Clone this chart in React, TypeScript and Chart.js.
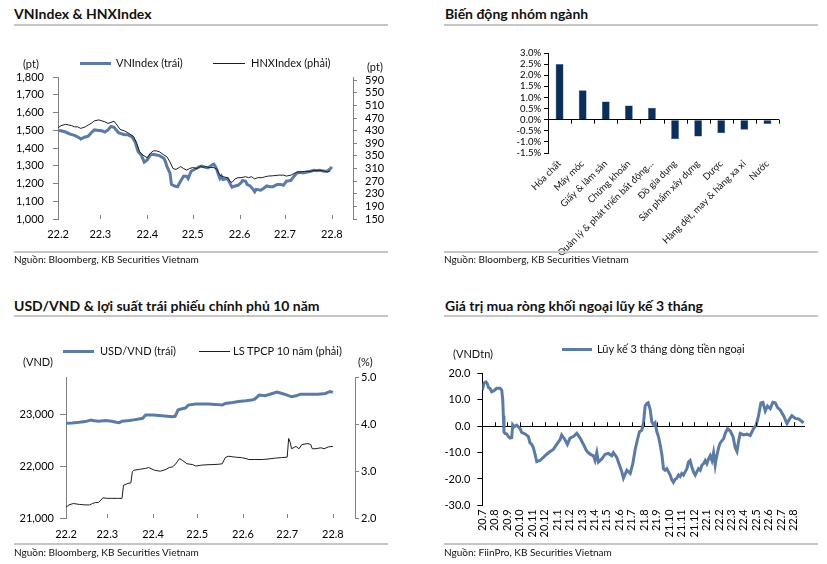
import React, { useEffect, useRef } from 'react';
import { Chart, registerables } from 'chart.js';

Chart.register(...registerables);

const FONT = 'Lato, "Open Sans", "DejaVu Sans", sans-serif';
const BLUE = '#5b7ba7';
const DARK = '#1e1e1e';
const AXIS_GRAY = '#808080';
const RULE_GRAY = '#c6c6c6';

// ---------- Panel 1: VNIndex & HNXIndex (x = days since 1 Feb 2022) ----------
const vnDays = [0, 2, 5, 8, 11, 14, 15, 18, 20, 22, 24, 27, 29, 31, 33, 35, 37, 40, 42, 44, 46, 49, 51, 53, 55, 57, 59, 61, 63, 65, 67, 70, 71, 72, 74, 75, 77, 79, 81, 83, 85, 86, 88, 91, 93, 95, 97, 99, 102, 103, 104, 105, 106, 107, 108, 109, 112, 113, 114, 115, 117, 119, 121, 122, 124, 125, 127, 129, 130, 131, 134, 136, 138, 140, 142, 145, 147, 149, 151, 154, 156, 158, 160, 162, 164, 167, 169, 171, 173, 176, 178, 180, 181];
const vnValues = [1499, 1497, 1490, 1478, 1471, 1458, 1451, 1462, 1467, 1486, 1502, 1499, 1497, 1490, 1502, 1521, 1517, 1486, 1480, 1475, 1475, 1462, 1434, 1379, 1361, 1320, 1333, 1361, 1364, 1361, 1357, 1342, 1324, 1296, 1259, 1195, 1186, 1182, 1213, 1241, 1241, 1228, 1269, 1283, 1292, 1298, 1292, 1288, 1305, 1309, 1296, 1278, 1250, 1228, 1241, 1222, 1228, 1213, 1195, 1180, 1186, 1190, 1204, 1217, 1213, 1195, 1186, 1167, 1154, 1167, 1162, 1173, 1186, 1182, 1182, 1195, 1195, 1190, 1213, 1217, 1241, 1259, 1263, 1259, 1263, 1269, 1274, 1272, 1274, 1269, 1269, 1283, 1294];
const hnxDays = [0, 2, 5, 7, 9, 11, 13, 15, 18, 20, 22, 24, 27, 29, 31, 33, 35, 37, 39, 41, 44, 47, 50, 52, 54, 56, 59, 61, 63, 65, 67, 70, 72, 74, 76, 78, 81, 83, 85, 87, 89, 92, 94, 96, 98, 100, 103, 105, 107, 109, 112, 114, 115, 117, 119, 121, 124, 126, 128, 130, 132, 135, 137, 139, 142, 146, 149, 151, 154, 156, 158, 160, 163, 167, 170, 173, 176, 178, 180];
const hnxValues = [439, 446, 450, 448, 446, 442, 442, 437, 442, 448, 453, 461, 464, 461, 458, 453, 456, 460, 448, 434, 429, 421, 411, 390, 363, 353, 344, 358, 366, 366, 363, 353, 347, 331, 310, 307, 316, 310, 305, 310, 313, 310, 317, 314, 316, 313, 313, 308, 289, 284, 281, 268, 266, 277, 281, 281, 284, 281, 284, 277, 281, 281, 284, 286, 287, 289, 289, 286, 289, 294, 299, 299, 301, 301, 304, 304, 302, 299, 302];
const monthTickDays = [0, 28, 59, 89, 120, 150, 181];
const monthTickLabels = ['22.2', '22.3', '22.4', '22.5', '22.6', '22.7', '22.8'];
const vnTicks = [1000, 1100, 1200, 1300, 1400, 1500, 1600, 1700, 1800];
const hnxTicks = [150, 190, 230, 270, 310, 350, 390, 430, 470, 510, 550, 590];

// ---------- Panel 2: sector performance ----------
const sectors = ['Hóa chất', 'Máy móc', 'Giấy & lâm sản', 'Chứng khoán', 'Quản lý & phát triển bất động…', 'Đồ gia dụng', 'Sản phẩm xây dựng', 'Dược', 'Hàng dệt, may & hàng xa xỉ', 'Nước'];
const sectorChanges = [2.5, 1.32, 0.82, 0.64, 0.54, -0.88, -0.76, -0.61, -0.45, -0.2];
const sectorTicks = [-1.5, -1.0, -0.5, 0, 0.5, 1.0, 1.5, 2.0, 2.5, 3.0];

// ---------- Panel 3: USD/VND & 10Y government bond yield ----------
const usdDays = [0, 4, 9, 13, 17, 18, 22, 27, 31, 34, 36, 38, 43, 47, 52, 54, 59, 65, 72, 74, 76, 78, 81, 83, 88, 92, 97, 101, 106, 108, 113, 117, 122, 126, 128, 131, 135, 140, 143, 146, 150, 153, 156, 159, 162, 167, 171, 176, 179, 181];
const usdValues = [22822, 22828, 22841, 22854, 22885, 22873, 22860, 22873, 22860, 22841, 22834, 22860, 22873, 22892, 22917, 22981, 22981, 22968, 22949, 22955, 23076, 23096, 23115, 23172, 23191, 23191, 23191, 23185, 23172, 23204, 23223, 23242, 23255, 23268, 23287, 23363, 23350, 23395, 23420, 23400, 23363, 23331, 23350, 23382, 23382, 23382, 23382, 23395, 23433, 23415];
const yieldDays = [0, 2, 5, 9, 13, 16, 18, 20, 22, 25, 28, 31, 35, 38, 39, 42, 44, 45, 46, 50, 54, 56, 60, 64, 68, 70, 72, 74, 77, 79, 82, 86, 88, 92, 97, 99, 104, 106, 108, 110, 115, 119, 122, 124, 128, 133, 137, 142, 146, 150, 151, 152, 153, 156, 158, 160, 164, 166, 167, 169, 173, 175, 178, 181];
const yieldValues = [2.23, 2.28, 2.31, 2.29, 2.28, 2.28, 2.31, 2.33, 2.33, 2.43, 2.42, 2.42, 2.42, 2.42, 2.7, 2.74, 2.75, 2.99, 3.02, 3.04, 3.06, 3.08, 3.02, 3.0, 3.04, 3.08, 3.09, 3.14, 3.27, 3.23, 3.16, 3.14, 3.11, 3.13, 3.14, 3.14, 3.15, 3.16, 3.29, 3.32, 3.3, 3.29, 3.27, 3.25, 3.25, 3.25, 3.26, 3.28, 3.29, 3.3, 3.7, 3.62, 3.48, 3.53, 3.48, 3.57, 3.59, 3.57, 3.48, 3.48, 3.5, 3.48, 3.52, 3.53];
const usdTicks = [21000, 22000, 23000];
const yieldTicks = [2, 3, 4, 5];

// ---------- Panel 4: foreign net buying, 3-month cumulative (x = months since Jul 2020) ----------
const flowMonths = [0, 0.14, 0.3, 0.4, 0.49, 0.62, 0.75, 0.94, 1.15, 1.42, 1.56, 1.64, 1.69, 1.74, 1.82, 1.96, 2.09, 2.23, 2.36, 2.44, 2.57, 2.76, 2.89, 3.03, 3.16, 3.43, 3.7, 3.83, 3.97, 4.1, 4.23, 4.37, 4.63, 4.9, 5.17, 5.44, 5.7, 5.97, 6.24, 6.37, 6.64, 6.83, 7.04, 7.31, 7.58, 7.85, 8.12, 8.38, 8.65, 8.92, 9.05, 9.19, 9.32, 9.59, 9.86, 10.12, 10.39, 10.52, 10.79, 11.06, 11.2, 11.33, 11.6, 11.87, 12.08, 12.27, 12.45, 12.61, 12.8, 12.93, 13.07, 13.2, 13.31, 13.47, 13.6, 13.74, 13.87, 14.01, 14.14, 14.27, 14.41, 14.54, 14.67, 14.81, 14.94, 15.08, 15.21, 15.34, 15.48, 15.61, 15.75, 15.88, 16.01, 16.15, 16.28, 16.42, 16.55, 16.68, 16.82, 16.95, 17.09, 17.22, 17.35, 17.49, 17.62, 17.76, 17.89, 18.02, 18.16, 18.29, 18.43, 18.56, 18.69, 18.77, 18.96, 19.1, 19.37, 19.5, 19.69, 19.9, 20.12, 20.3, 20.44, 20.57, 20.7, 20.97, 21.24, 21.5, 21.77, 21.98, 22.17, 22.36, 22.52, 22.71, 22.89, 23.11, 23.32, 23.51, 23.7, 23.91, 24.18, 24.45, 24.66, 24.85, 25.12, 25.38, 25.65, 25.79];
const flowValues = [13.7, 16.4, 16.8, 16.2, 14.7, 14.4, 13.1, 13.5, 14.4, 14.4, 13.7, 10.1, 4.0, -2.1, -2.7, -2.9, -3.9, -4.5, -4.3, 0.6, -0.2, 0.4, -0.2, -0.9, -2.3, -2.9, -3.9, -6.3, -6.9, -8.2, -10.6, -13.4, -13.0, -11.8, -10.6, -9.6, -8.8, -6.9, -5.1, -3.3, -5.1, -6.9, -4.5, -3.9, -2.7, -4.5, -6.9, -9.4, -10.6, -11.2, -13.0, -10.0, -13.6, -12.4, -10.6, -10.3, -11.2, -10.0, -11.8, -15.5, -17.3, -19.7, -16.7, -17.9, -14.2, -8.8, -5.1, -2.1, -1.5, 1.0, 7.7, 8.6, 8.9, 6.4, 1.8, 0.6, 1.3, -2.1, -3.9, -6.9, -10.6, -16.1, -16.7, -16.1, -17.3, -18.5, -20.3, -21.3, -20.1, -19.7, -18.5, -19.1, -17.9, -18.5, -17.3, -16.1, -13.6, -13.0, -15.5, -17.3, -18.5, -17.3, -16.1, -16.7, -14.8, -14.2, -13.0, -14.2, -12.4, -11.2, -13.0, -10.0, -14.8, -12.4, -8.2, -6.3, -4.7, -2.7, -0.9, -1.8, -3.9, -8.2, -9.6, -5.7, -2.7, -3.3, -3.0, -3.5, -0.9, 0.4, 4.0, 8.9, 9.1, 5.8, 7.7, 6.7, 9.1, 8.9, 7.1, 6.2, 4.0, 1.0, 2.8, 4.0, 3.0, 2.8, 1.8, 1.3];
const flowLabels = ['20.7', '20.8', '20.9', '20.10', '20.11', '20.12', '21.1', '21.2', '21.3', '21.4', '21.5', '21.6', '21.7', '21.8', '21.9', '21.10', '21.11', '21.12', '22.1', '22.2', '22.3', '22.4', '22.5', '22.6', '22.7', '22.8'];
const flowTicks = [20, 10, 0, -10, -20, -30];

// ---------- helpers ----------
const font = (size: number) => ({ family: FONT, size });
const setTicks = (values: number[]) => (scale: any) => {
  scale.ticks = values.map((v) => ({ value: v }));
};
const pts = (xs: number[], ys: number[]) => xs.map((x, i) => ({ x, y: ys[i] }));

// small tick marks drawn on a horizontal line (zero line or plot bottom)
const markPlugin = (id: string, getXs: (chart: any) => number[], getY: (chart: any) => number, dir: number, color: string) => ({
  id,
  afterDatasetsDraw(chart: any) {
    const ctx = chart.ctx;
    const y = getY(chart);
    ctx.save();
    ctx.strokeStyle = color;
    ctx.lineWidth = 1;
    getXs(chart).forEach((px) => {
      const xx = Math.round(px) + 0.5;
      ctx.beginPath();
      ctx.moveTo(xx, y);
      ctx.lineTo(xx, y + dir * 4);
      ctx.stroke();
    });
    ctx.restore();
  },
});

function ChartBox({ left, top, width, height, makeConfig }: { left: number; top: number; width: number; height: number; makeConfig: () => any }) {
  const ref = useRef<HTMLCanvasElement>(null);
  useEffect(() => {
    const chart = new Chart(ref.current as HTMLCanvasElement, makeConfig());
    return () => chart.destroy();
  }, []);
  return (
    <div style={{ position: 'absolute', left, top, width, height }}>
      <canvas ref={ref} width={width} height={height} style={{ display: 'block' }} />
    </div>
  );
}

function Txt({ x, y, size, text, bold, color }: { x: number; y: number; size: number; text: string; bold?: boolean; color?: string }) {
  return (
    <div
      style={{
        position: 'absolute',
        left: x,
        top: y - size * 0.62,
        fontSize: size,
        lineHeight: `${size * 1.24}px`,
        fontFamily: FONT,
        fontWeight: bold ? 700 : 400,
        color: color || '#111',
        whiteSpace: 'nowrap',
      }}
    >
      {text}
    </div>
  );
}

function Rule({ x1, x2, y, h, color }: { x1: number; x2: number; y: number; h: number; color: string }) {
  return <div style={{ position: 'absolute', left: x1, top: y - h / 2, width: x2 - x1, height: h, background: color }} />;
}

const baseOptions = {
  responsive: false,
  animation: false,
  devicePixelRatio: 1,
  plugins: { legend: { display: false }, tooltip: { enabled: false } },
};

// ---------- configs ----------
const config1 = () => ({
  type: 'line',
  data: {
    datasets: [
      { label: 'HNXIndex (phải)', data: pts(hnxDays, hnxValues), yAxisID: 'yR', borderColor: DARK, borderWidth: 1, pointRadius: 0, order: 1 },
      { label: 'VNIndex (trái)', data: pts(vnDays, vnValues), yAxisID: 'yL', borderColor: BLUE, borderWidth: 3, pointRadius: 0, order: 2 },
    ],
  },
  options: {
    ...baseOptions,
    layout: { padding: { top: 37, left: 0, right: 0, bottom: 0 } },
    scales: {
      x: {
        type: 'linear', min: 0, max: 195,
        afterBuildTicks: setTicks(monthTickDays),
        afterFit: (s: any) => { s.height = 36; },
        ticks: { autoSkip: false, maxRotation: 0, padding: 9, font: font(11), color: '#000', callback: (v: number) => monthTickLabels[monthTickDays.indexOf(v)] ?? '' },
        grid: { drawOnChartArea: false, drawTicks: false },
        border: { display: false },
      },
      yL: {
        position: 'left', min: 1000, max: 1800,
        afterBuildTicks: setTicks(vnTicks),
        afterFit: (s: any) => { s.width = 58; },
        ticks: { autoSkip: false, padding: 9, font: font(11), color: '#000', callback: (v: number) => v.toLocaleString('en-US') },
        grid: { drawOnChartArea: false, tickLength: 5, color: AXIS_GRAY },
        border: { color: AXIS_GRAY },
      },
      yR: {
        position: 'right', min: 150, max: 600,
        afterBuildTicks: setTicks(hnxTicks),
        afterFit: (s: any) => { s.width = 67; },
        ticks: { autoSkip: false, padding: 8, font: font(11), color: '#000' },
        grid: { drawOnChartArea: false, tickLength: 4, color: AXIS_GRAY },
        border: { color: AXIS_GRAY },
      },
    },
  },
  plugins: [markPlugin('m1', (c) => monthTickDays.slice(1).map((d) => c.scales.x.getPixelForValue(d)), (c) => c.chartArea.bottom, -1, AXIS_GRAY)],
});

const config2 = () => ({
  type: 'bar',
  data: {
    labels: sectors,
    datasets: [{ data: sectorChanges, backgroundColor: '#0a2f5c', borderColor: '#3b5a80', borderWidth: 0.5, categoryPercentage: 1, barPercentage: 0.34 }],
  },
  options: {
    ...baseOptions,
    layout: { padding: { top: 13, left: 0, right: 48, bottom: 0 } },
    scales: {
      x: {
        afterFit: (s: any) => { s.height = 102; },
        ticks: { autoSkip: false, minRotation: 45, maxRotation: 45, padding: 5, font: font(9.5), color: '#111' },
        grid: { display: false, drawTicks: false },
        border: { display: false },
      },
      y: {
        min: -1.5, max: 3.0,
        afterBuildTicks: setTicks(sectorTicks),
        ticks: { autoSkip: false, padding: 3, font: font(9.5), color: '#000', callback: (v: number) => `${v.toFixed(1)}%` },
        afterFit: (s: any) => { s.width = 128; },
        grid: { color: (c: any) => (c.tick && c.tick.value === 0 ? '#000' : 'rgba(0,0,0,0)'), tickColor: '#000', tickLength: 4 },
        border: { color: '#000' },
      },
    },
  },
  plugins: [
    markPlugin('m2', (c) => {
      const x = c.scales.x;
      const n = sectors.length;
      const out: number[] = [];
      for (let i = 1; i <= n; i++) out.push(x.left + (i * (x.right - x.left)) / n);
      return out;
    }, (c) => c.scales.y.getPixelForValue(0), 1, '#000'),
  ],
});

const config3 = () => ({
  type: 'line',
  data: {
    datasets: [
      { label: 'LS TPCP 10 năm (phải)', data: pts(yieldDays, yieldValues), yAxisID: 'yR', borderColor: DARK, borderWidth: 1, pointRadius: 0, order: 1 },
      { label: 'USD/VND (trái)', data: pts(usdDays, usdValues), yAxisID: 'yL', borderColor: BLUE, borderWidth: 3, pointRadius: 0, order: 2 },
    ],
  },
  options: {
    ...baseOptions,
    layout: { padding: { top: 12.3, left: 0, right: 0, bottom: 0 } },
    scales: {
      x: {
        type: 'linear', min: 0, max: 196,
        afterBuildTicks: setTicks(monthTickDays),
        afterFit: (s: any) => { s.height = 27; },
        ticks: { autoSkip: false, maxRotation: 0, padding: 10, font: font(11), color: '#000', callback: (v: number) => monthTickLabels[monthTickDays.indexOf(v)] ?? '' },
        grid: { drawOnChartArea: false, drawTicks: false },
        border: { display: false },
      },
      yL: {
        position: 'left', min: 21000, max: 23700,
        afterBuildTicks: setTicks(usdTicks),
        afterFit: (s: any) => { s.width = 66; },
        ticks: { autoSkip: false, padding: 6, font: font(11), color: '#000', callback: (v: number) => v.toLocaleString('en-US') },
        grid: { drawOnChartArea: false, tickLength: 6, color: AXIS_GRAY },
        border: { color: AXIS_GRAY },
      },
      yR: {
        position: 'right', min: 2, max: 5,
        afterBuildTicks: setTicks(yieldTicks),
        afterFit: (s: any) => { s.width = 65; },
        ticks: { autoSkip: false, padding: 2, font: font(11), color: '#000', callback: (v: number) => v.toFixed(1) },
        grid: { drawOnChartArea: false, tickLength: 4, color: AXIS_GRAY },
        border: { color: AXIS_GRAY },
      },
    },
  },
  plugins: [markPlugin('m3', (c) => monthTickDays.slice(1).map((d) => c.scales.x.getPixelForValue(d)), (c) => c.chartArea.bottom, -1, AXIS_GRAY)],
});

const config4 = () => ({
  type: 'line',
  data: {
    datasets: [
      { label: 'Lũy kế 3 tháng dòng tiền ngoại', data: pts(flowMonths, flowValues), borderColor: BLUE, borderWidth: 3, pointRadius: 0 },
    ],
  },
  options: {
    ...baseOptions,
    layout: { padding: { top: 8.3, left: 0, right: 22, bottom: 0 } },
    scales: {
      x: {
        type: 'linear', min: 0, max: 25.9,
        afterBuildTicks: setTicks(flowLabels.map((_, i) => i)),
        afterFit: (s: any) => { s.height = 39.7; },
        ticks: { autoSkip: false, minRotation: 90, maxRotation: 90, padding: 4, font: font(11), color: '#000', callback: (v: number) => flowLabels[v] ?? '' },
        grid: { display: false, drawTicks: false },
        border: { display: false },
      },
      y: {
        min: -30, max: 20,
        afterBuildTicks: setTicks(flowTicks),
        afterFit: (s: any) => { s.width = 62.3; },
        ticks: { autoSkip: false, padding: 7, font: font(11), color: '#000', callback: (v: number) => v.toFixed(1) },
        grid: { color: (c: any) => (c.tick && c.tick.value === 0 ? '#000' : 'rgba(0,0,0,0)'), tickColor: '#000', tickLength: 5 },
        border: { color: '#000' },
      },
    },
  },
  plugins: [markPlugin('m4', (c) => flowLabels.slice(1).map((_, i) => c.scales.x.getPixelForValue(i + 1)), (c) => c.scales.y.getPixelForValue(0), -1, '#000')],
});

export default function App() {
  return (
    <div style={{ position: 'absolute', left: 0, top: 0, width: 827, height: 564, background: '#fff', overflow: 'hidden' }}>
      {/* Panel 1 */}
      <Txt x={14} y={13.3} size={14} bold text="VNIndex & HNXIndex" />
      <Rule x1={14} x2={388} y={25} h={2} color={RULE_GRAY} />
      <ChartBox left={0} top={40} width={420} height={215} makeConfig={config1} />
      <Rule x1={80} x2={111} y={63} h={3} color={BLUE} />
      <Txt x={116} y={63} size={11} text="VNIndex (trái)" />
      <Rule x1={213} x2={245} y={63} h={1} color={DARK} />
      <Txt x={251} y={63} size={11} text="HNXIndex (phải)" />
      <Txt x={23} y={64} size={11} text="(pt)" />
      <Txt x={367} y={66.7} size={11} text="(pt)" />
      <Rule x1={14} x2={388} y={252.3} h={2} color={RULE_GRAY} />
      <Txt x={14} y={259.3} size={10} text="Nguồn: Bloomberg, KB Securities Vietnam" />

      {/* Panel 2 */}
      <Txt x={445} y={13.3} size={14} bold text="Biến động nhóm ngành" />
      <Rule x1={444} x2={818} y={25} h={2} color={RULE_GRAY} />
      <ChartBox left={420} top={40} width={407} height={215} makeConfig={config2} />
      <Rule x1={444} x2={818} y={252.3} h={2} color={RULE_GRAY} />
      <Txt x={444} y={259.3} size={10} text="Nguồn: Bloomberg, KB Securities Vietnam" />

      {/* Panel 3 */}
      <Txt x={14} y={305.5} size={14} bold text="USD/VND & lợi suất trái phiếu chính phủ 10 năm" />
      <Rule x1={14} x2={388} y={316} h={2} color={RULE_GRAY} />
      <ChartBox left={0} top={365} width={420} height={180} makeConfig={config3} />
      <Rule x1={63} x2={94} y={351} h={3} color={BLUE} />
      <Txt x={100} y={351} size={11} text="USD/VND (trái)" />
      <Rule x1={199} x2={230} y={351} h={1} color={DARK} />
      <Txt x={233} y={351} size={11} text="LS TPCP 10 năm (phải)" />
      <Txt x={23} y={362.3} size={11} text="(VND)" />
      <Txt x={358} y={362.3} size={11} text="(%)" />
      <Rule x1={14} x2={388} y={544.3} h={2} color={RULE_GRAY} />
      <Txt x={14} y={551.7} size={10} text="Nguồn: Bloomberg, KB Securities Vietnam" />

      {/* Panel 4 */}
      <Txt x={445} y={305.5} size={14} bold text="Giá trị mua ròng khối ngoại lũy kế 3 tháng" />
      <Rule x1={444} x2={818} y={316} h={2} color={RULE_GRAY} />
      <ChartBox left={420} top={360} width={407} height={185} makeConfig={config4} />
      <Rule x1={562} x2={592} y={349} h={3} color={BLUE} />
      <Txt x={597} y={349} size={11} text="Lũy kế 3 tháng dòng tiền ngoại" />
      <Txt x={453} y={354} size={11} text="(VNDtn)" />
      <Rule x1={444} x2={818} y={544.3} h={2} color={RULE_GRAY} />
      <Txt x={444} y={551.7} size={10} text="Nguồn: FiinPro, KB Securities Vietnam" />
    </div>
  );
}
